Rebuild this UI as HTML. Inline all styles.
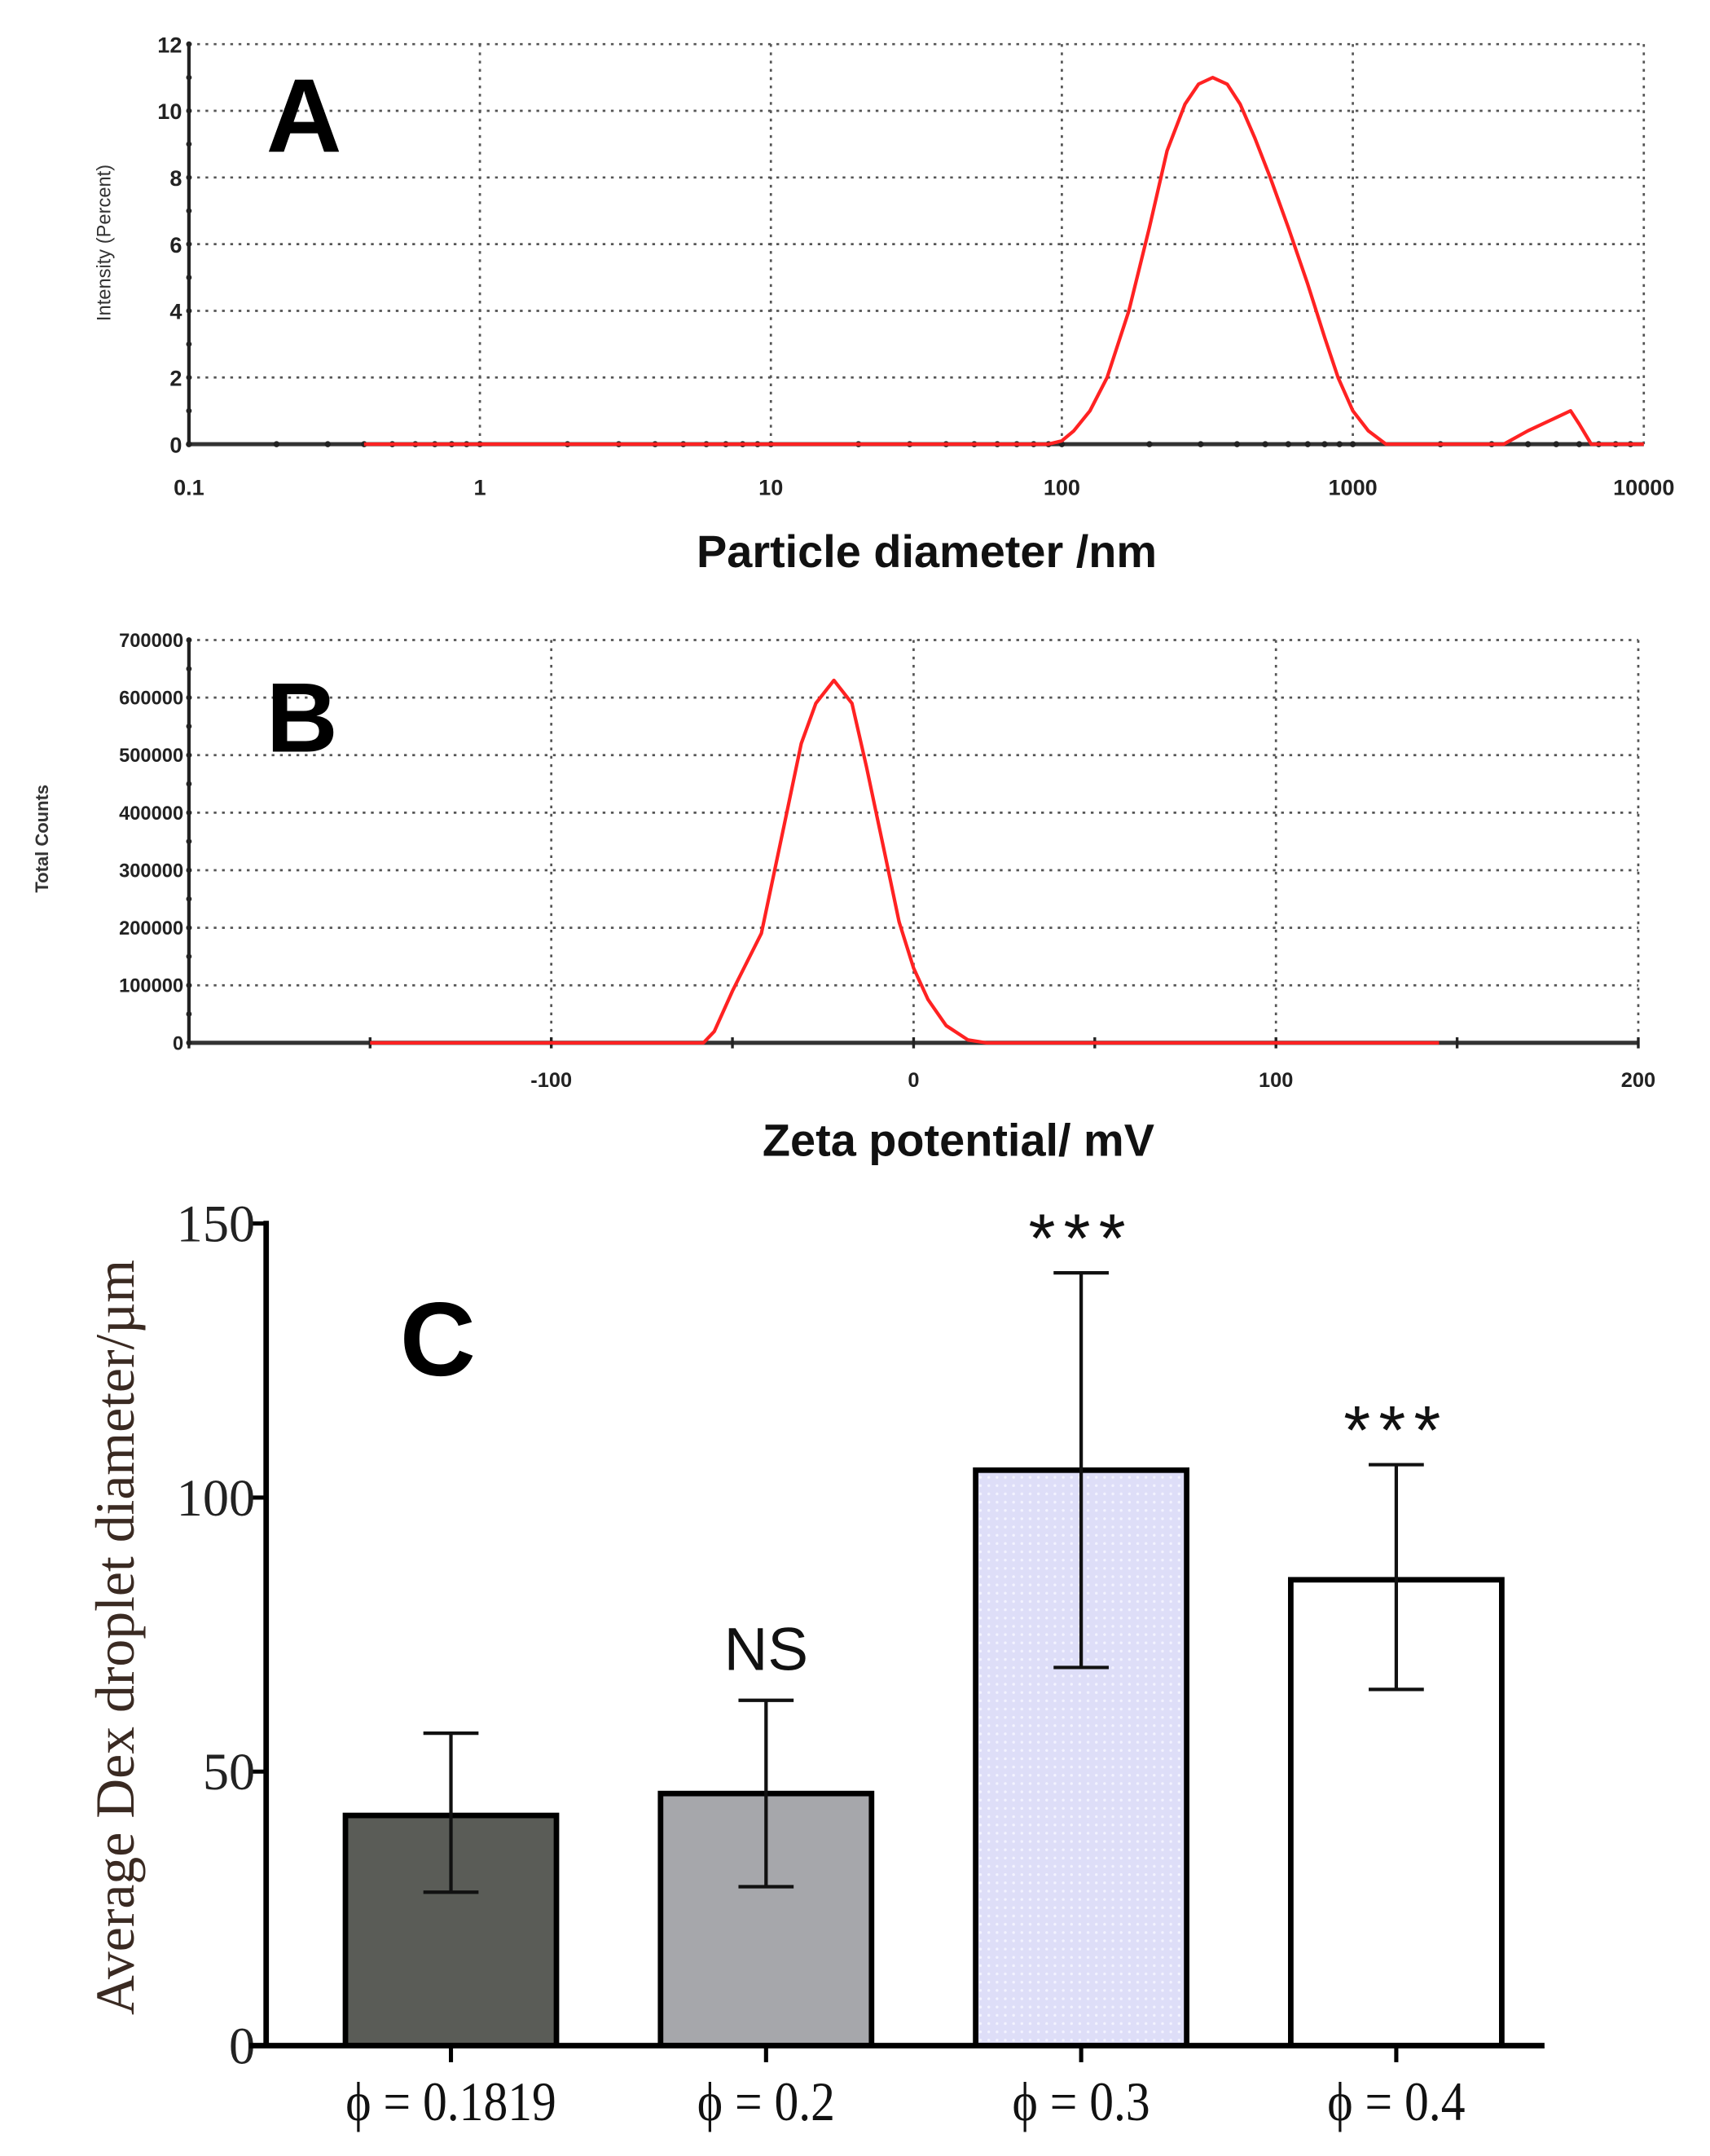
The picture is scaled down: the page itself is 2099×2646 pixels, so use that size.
<!DOCTYPE html>
<html><head><meta charset="utf-8"><style>
html,body{margin:0;padding:0;background:#fff}
svg{display:block}
</style></head><body>
<svg id="fig" width="2099" height="2646" viewBox="0 0 1240 1563" preserveAspectRatio="none" xmlns="http://www.w3.org/2000/svg" font-family="Liberation Sans, sans-serif">
<g id="pa"></g>
<g id="pb"></g>
<g id="pc"></g>
</svg>
<script>
// Panel A data
const aDiam = [0.4,90,100,110,125,143,170,200,230,265,295,330,370,410,460,520,600,700,800,890,1000,1130,1300,1500,3300,4000,5000,5600,6000,6600,10000];
const aInt = [0,0,0.1,0.4,1,2,4,6.5,8.8,10.2,10.8,11,10.8,10.2,9.2,8,6.5,4.8,3.2,2,1,0.4,0,0,0,0.4,0.8,1,0.6,0,0];
const aYTicks = [0,2,4,6,8,10,12];
const aXTicks = [0.1,1,10,100,1000,10000];
// Panel B data
const bMv = [-150,-58,-55,-50,-42,-36,-31,-27,-22,-17,-13,-8,-4,0,4,9,15,20,145];
const bCounts = [0,0,20000,90000,190000,370000,520000,590000,630000,590000,480000,330000,210000,130000,75000,30000,5000,0,0];
const bYTicks = [0,100000,200000,300000,400000,500000,600000,700000];
const bXTicks = [-100,0,100,200];
// Panel C data
const cCats = ["ϕ = 0.1819","ϕ = 0.2","ϕ = 0.3","ϕ = 0.4"];
const cVals = [42,46,105,85];
const cLow = [28,29,69,65];
const cHigh = [57,63,141,106];
const cSig = ["","NS","***","***"];
const cYTicks = [0,50,100,150];

const NS="http://www.w3.org/2000/svg";
function mk(parent,tag,attrs,text){const e=document.createElementNS(NS,tag);for(const k in attrs)e.setAttribute(k,attrs[k]);if(text!==undefined)e.textContent=text;parent.appendChild(e);return e;}

// ---- Panel A ----
const pa=document.getElementById('pa');
const axL=137,axR=1192,ayB=322,ayT=32;
const ax=d=>axL+(Math.log10(d)+1)/5*(axR-axL);
const ay=v=>ayB-v/12*(ayB-ayT);
aYTicks.forEach(t=>{
 if(t>0){const g=mk(pa,'line',{x1:axL,x2:axR,y1:ay(t),y2:ay(t),stroke:'#555','stroke-width':1.6,'stroke-dasharray':'2 4'});
 }
 const l=mk(pa,'text',{x:axL-5,y:ay(t)+6,'text-anchor':'end','font-size':16,fill:'#222','font-weight':'bold'},t);
 
});
aXTicks.forEach(t=>{
 if(t>0.1){const g=mk(pa,'line',{x1:ax(t),x2:ax(t),y1:ayT,y2:ayB,stroke:'#555','stroke-width':1.6,'stroke-dasharray':'2 4'});
 }
 const l=mk(pa,'text',{x:ax(t),y:ayB+37,'text-anchor':'middle','font-size':16,fill:'#222','font-weight':'bold'},t);
 
});
{const f=mk(pa,'line',{x1:axL,x2:axL,y1:ayT,y2:ayB,stroke:'#222','stroke-width':2.5});
const b=mk(pa,'line',{x1:axL,x2:axR,y1:ayB,y2:ayB,stroke:'#333','stroke-width':3});}
for(let d=-1;d<4;d++)for(let m=1;m<10;m++){const c=mk(pa,'circle',{cx:ax(m*Math.pow(10,d)),cy:ayB,r:2.2,fill:'#222'});}
for(let v=0;v<=12;v+=1){const c=mk(pa,'circle',{cx:axL,cy:ay(v),r:2,fill:'#222'});}
{let p=aDiam.map((d,i)=>(i?'L':'M')+ax(d).toFixed(1)+','+ay(aInt[i]).toFixed(1)).join(' ');
const c=mk(pa,'path',{d:p,fill:'none',stroke:'#f22','stroke-width':2.5,'stroke-linejoin':'round'});}
{const t=mk(pa,'text',{x:0,y:0,transform:'translate(80,176) rotate(-90)','text-anchor':'middle','font-size':14,fill:'#333'},'Intensity (Percent)');
const x=mk(pa,'text',{x:672,y:411,'text-anchor':'middle','font-size':33,'font-weight':'bold',fill:'#111'},'Particle diameter /nm');
const L=mk(pa,'text',{x:193,y:110,'font-size':76,'font-weight':'bold',fill:'#000'},'A');}

// ---- Panel B ----
const pb=document.getElementById('pb');
const bxL=137,bxR=1188,byB=756,byT=464;
const bx=v=>bxL+(v+200)/400*(bxR-bxL);
const by=v=>byB-v/700000*(byB-byT);
bYTicks.forEach(t=>{
 if(t>0){const g=mk(pb,'line',{x1:bxL,x2:bxR,y1:by(t),y2:by(t),stroke:'#555','stroke-width':1.6,'stroke-dasharray':'2 4'});}
 const l=mk(pb,'text',{x:bxL-4,y:by(t)+5,'text-anchor':'end','font-size':14,fill:'#222','font-weight':'bold'},t);
});
bXTicks.forEach(t=>{
 const g=mk(pb,'line',{x1:bx(t),x2:bx(t),y1:byT,y2:byB,stroke:'#555','stroke-width':1.6,'stroke-dasharray':'2 4'});
 const l=mk(pb,'text',{x:bx(t),y:byB+32,'text-anchor':'middle','font-size':15,fill:'#222','font-weight':'bold'},t);
});
{const f=mk(pb,'line',{x1:bxL,x2:bxL,y1:byT,y2:byB,stroke:'#222','stroke-width':2.5});
const b=mk(pb,'line',{x1:bxL,x2:bxR,y1:byB,y2:byB,stroke:'#333','stroke-width':3});}
for(let v=-200;v<=200;v+=50){const c=mk(pb,'line',{x1:bx(v),x2:bx(v),y1:byB-4,y2:byB+4,stroke:'#222','stroke-width':2});}
for(let v=0;v<=700000;v+=50000){const c=mk(pb,'circle',{cx:bxL,cy:by(v),r:2,fill:'#222'});}
{let p=bMv.map((d,i)=>(i?'L':'M')+bx(d).toFixed(1)+','+by(bCounts[i]).toFixed(1)).join(' ');
const c=mk(pb,'path',{d:p,fill:'none',stroke:'#f22','stroke-width':2.5,'stroke-linejoin':'round'});}
{const t=mk(pb,'text',{x:0,y:0,transform:'translate(35,608) rotate(-90)','text-anchor':'middle','font-size':13,fill:'#333','font-weight':'bold'},'Total Counts');
const x=mk(pb,'text',{x:695,y:838,'text-anchor':'middle','font-size':33,'font-weight':'bold',fill:'#111'},'Zeta potential/ mV');
const L=mk(pb,'text',{x:193,y:545,'font-size':72,'font-weight':'bold',fill:'#000'},'B');}

// ---- Panel C ----
const pc=document.getElementById('pc');
const cxL=193,cxR=1120,cyB=1483,cyT=887;
const cy=v=>cyB-v/150*(cyB-cyT);
const cx=i=>327+i*228.5;
const bw=153;
const fills=['#5a5c57','#a6a7ab','url(#dots)','#fff'];
const defs=mk(pc,'defs',{});
const pat=mk(defs,'pattern',{id:'dots',width:6,height:6,patternUnits:'userSpaceOnUse'});
mk(pat,'rect',{width:6,height:6,fill:'#dedef8'});mk(pat,'circle',{cx:3,cy:3,r:1,fill:'#f3f3ff'});
cYTicks.forEach(t=>{
 const k=mk(pc,'line',{x1:cxL-10,x2:cxL,y1:cy(t),y2:cy(t),stroke:'#000','stroke-width':3});
 const l=mk(pc,'text',{x:cxL-8,y:cy(t)+13,'text-anchor':'end','font-size':38,'font-family':'Liberation Serif, serif',fill:'#222'},t);
});
cCats.forEach((c,i)=>{
 const x=cx(i);
 const r=mk(pc,'rect',{x:x-bw/2,y:cy(cVals[i]),width:bw,height:cy(0)-cy(cVals[i]),fill:fills[i],stroke:'#000','stroke-width':4});
 
 const e=mk(pc,'path',{d:`M${x-20},${cy(cHigh[i])}H${x+20}M${x},${cy(cHigh[i])}V${cy(cLow[i])}M${x-20},${cy(cLow[i])}H${x+20}`,stroke:'#111','stroke-width':2.5,fill:'none'});
 
 const k=mk(pc,'line',{x1:x,x2:x,y1:cyB,y2:cyB+12,stroke:'#000','stroke-width':3});
 const l=mk(pc,'text',{x:x,y:1537,'text-anchor':'middle','font-size':40,'font-family':'Liberation Serif, serif',fill:'#111',transform:`translate(${x*0.12},0) scale(0.88,1)`},c);
 if(cSig[i]){const s=mk(pc,'text',{x:x,y:cy(cHigh[i])-(cSig[i]==='NS'?22:8),'text-anchor':'middle','font-size':cSig[i]==='NS'?44:50,fill:'#111','letter-spacing':cSig[i]==='NS'?0:6},cSig[i]);}
});
{const y=mk(pc,'line',{x1:cxL,x2:cxL,y1:cyT-2,y2:cyB+2,stroke:'#000','stroke-width':4});
const x=mk(pc,'line',{x1:cxL-12,x2:cxR,y1:cyB,y2:cyB,stroke:'#000','stroke-width':4});
const t=mk(pc,'text',{x:0,y:0,transform:'translate(97,1187) rotate(-90)','text-anchor':'middle','font-size':40,'font-family':'Liberation Serif, serif',fill:'#3a2a22'},'Average Dex droplet diameter/µm');
const L=mk(pc,'text',{x:290,y:997,'font-size':76,'font-weight':'bold',fill:'#000'},'C');}
</script>
</body></html>
